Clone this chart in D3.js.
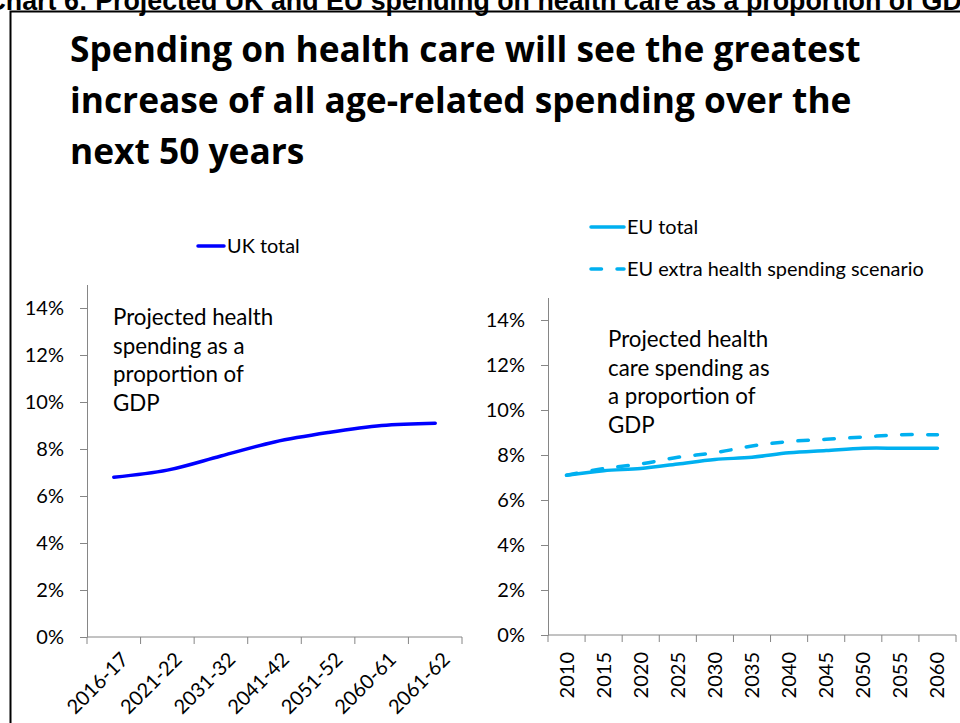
<!DOCTYPE html>
<html>
<head>
<meta charset="utf-8">
<script src="https://cdn.jsdelivr.net/npm/d3@7/dist/d3.min.js"></script>
<style>
  html, body { margin: 0; padding: 0; background: #fff; }
  svg { display: block; }
  text { font-family: Lato, "Open Sans", sans-serif; fill: #000; }
  .axis path, .axis line { stroke: #868686; stroke-width: 1; }
  .axis text { font-family: Lato, sans-serif; font-size: 20px; fill: #000; }
</style>
</head>
<body>
<svg id="chart" width="960" height="723"></svg>
<script>
// UK projections (share of GDP, %)
const ukPeriods = ["2016-17", "2021-22", "2031-32", "2041-42", "2051-52", "2060-61", "2061-62"];
const ukTotal   = [6.8, 7.1, 7.7, 8.3, 8.7, 9.0, 9.1];

// EU projections (share of GDP, %)
const euYears = ["2010", "2015", "2020", "2025", "2030", "2035", "2040", "2045", "2050", "2055", "2060"];
const euTotal = [7.1, 7.3, 7.4, 7.6, 7.8, 7.9, 8.1, 8.2, 8.3, 8.3, 8.3];
const euExtra = [7.1, 7.4, 7.6, 7.9, 8.1, 8.4, 8.6, 8.7, 8.8, 8.9, 8.9];

const yTicks = [0, 2, 4, 6, 8, 10, 12, 14];

const headerText = "Chart 6: Projected UK and EU spending on health care as a proportion of GDP";
const titleLines = [
  "Spending on health care will see the greatest",
  "increase of all age-related spending over the",
  "next 50 years"
];
const ukNote = ["Projected health", "spending as a", "proportion of", "GDP"];
const euNote = ["Projected health", "care spending as", "a proportion of", "GDP"];

const UK_BLUE = "#0000ff";
const EU_BLUE = "#00b0f0";

const svg = d3.select("#chart");

// Running header (partly clipped at the top edge)
svg.append("text")
  .attr("x", -13.5).attr("y", 9.5)
  .style("font-family", "'Liberation Sans', Arial, sans-serif")
  .style("font-weight", "bold")
  .style("font-size", "26.8px")
  .text(headerText);

// Frame
svg.append("path")
  .attr("d", "M10.5,723 V11.5 H962")
  .attr("fill", "none").attr("stroke", "#000").attr("stroke-width", 2);

// Headline
svg.append("g").selectAll("text").data(titleLines).join("text")
  .attr("x", 70).attr("y", (d, i) => 62 + i * 51)
  .style("font-family", "'Open Sans', sans-serif")
  .style("font-weight", "bold").style("font-size", "35.3px")
  .text(d => d);

function panel(opts) {
  const g = svg.append("g");
  const x = d3.scaleBand().domain(opts.categories).range(opts.xRange);
  const y = d3.scaleLinear().domain([0, 15]).range(opts.yRange);

  // y axis
  g.append("g").attr("class", "axis")
    .attr("transform", `translate(${opts.xRange[0]},0)`)
    .call(d3.axisLeft(y).tickValues(yTicks).tickFormat(d => d + "%")
      .tickSize(7).tickSizeOuter(0).tickPadding(16));

  // x axis baseline with ticks on category boundaries
  const xa = g.append("g").attr("class", "axis")
    .attr("transform", `translate(0,${y(0)})`);
  xa.append("line").attr("x1", opts.xRange[0]).attr("x2", opts.xRange[1]);
  const bounds = opts.categories.map(c => x(c)).concat([opts.xRange[1]]);
  xa.selectAll("line.tick").data(bounds).join("line")
    .attr("class", "tick").attr("x1", d => d).attr("x2", d => d).attr("y1", 0).attr("y2", 7);
  const labels = xa.selectAll("text.lab").data(opts.categories).join("text")
    .attr("class", "lab");
  opts.placeLabels(labels, c => x(c) + x.bandwidth() / 2);

  // note
  g.append("g").selectAll("text").data(opts.note).join("text")
    .attr("x", opts.noteX).attr("y", (d, i) => opts.noteY + i * 28.5)
    .style("font-size", "22.3px").text(d => d);

  // series
  opts.series.forEach(s => {
    const line = d3.line()
      .x((d, i) => x(opts.categories[i]) + x.bandwidth() / 2)
      .y(d => y(d))
      .curve(d3.curveCatmullRom.alpha(0.5));
    g.append("path").datum(s.values)
      .attr("fill", "none").attr("stroke", s.color).attr("stroke-width", 3.5)
      .attr("stroke-linecap", "round")
      .attr("stroke-dasharray", s.dash || null)
      .attr("d", line);
  });

  // legend
  opts.legend.forEach((l, i) => {
    const ly = opts.legendY + i * 42;
    g.append("line")
      .attr("x1", opts.legendX).attr("x2", opts.legendX + opts.legendLen)
      .attr("y1", ly).attr("y2", ly)
      .attr("stroke", l.color).attr("stroke-width", 3.5)
      .attr("stroke-linecap", "round")
      .attr("stroke-dasharray", l.dash || null);
    g.append("text")
      .attr("x", opts.legendX + opts.legendLen + 3).attr("y", ly).attr("dy", "0.35em")
      .style("font-size", "19.9px").text(l.label);
  });
}

panel({
  categories: ukPeriods,
  xRange: [87, 462],
  yRange: [637, 284.5],
  note: ukNote, noteX: 113, noteY: 325,
  series: [{ values: ukTotal, color: UK_BLUE }],
  legend: [{ label: "UK total", color: UK_BLUE }],
  legendX: 198, legendY: 246, legendLen: 26,
  placeLabels: (sel, cx) => sel
    .attr("text-anchor", "end")
    .attr("transform", d => `translate(${cx(d) + 6},${14}) rotate(-45)`)
    .attr("dy", "0.7em")
    .text(d => d)
});

panel({
  categories: euYears,
  xRange: [548, 956],
  yRange: [635, 297.5],
  note: euNote, noteX: 608, noteY: 347,
  series: [
    { values: euExtra, color: EU_BLUE, dash: "10.5,15.5" },
    { values: euTotal, color: EU_BLUE }
  ],
  legend: [
    { label: "EU total", color: EU_BLUE },
    { label: "EU extra health spending scenario", color: EU_BLUE, dash: "10.5,15.5" }
  ],
  legendX: 591, legendY: 227, legendLen: 33,
  placeLabels: (sel, cx) => sel
    .attr("text-anchor", "end")
    .attr("transform", d => `translate(${cx(d)},${17}) rotate(-90)`)
    .attr("dy", "0.35em")
    .text(d => d)
});
</script>
</body>
</html>
